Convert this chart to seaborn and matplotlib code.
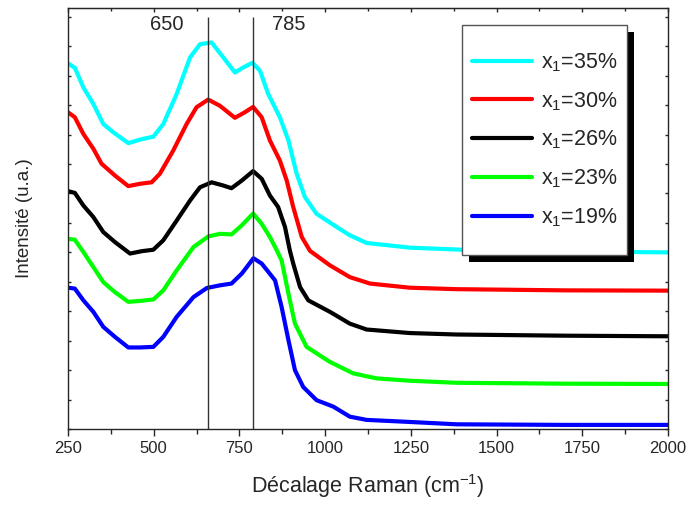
#!/usr/bin/env python3
import os

os.environ.setdefault("MPLCONFIGDIR", ".mplconfig")

import pandas as pd
import seaborn as sns
from matplotlib import pyplot as plt
from matplotlib.patches import Rectangle

# Raman spectra (shift in cm-1, intensity in a.u., curves already offset)
shift_35 = [250, 270, 295, 324, 353, 382, 426, 460, 499, 528, 567, 606, 635, 669, 703, 737,
            761, 788, 810, 834, 868, 893, 917, 941, 975, 1034, 1072, 1121, 1247, 1400, 1700, 2000]
int_35 = [12.42, 12.27, 11.60, 11.04, 10.36, 10.08, 9.71, 9.83, 9.93, 10.36, 11.38, 12.62,
          13.07, 13.13, 12.62, 12.11, 12.28, 12.44, 12.17, 11.38, 10.59, 9.80, 8.67, 7.88,
          7.31, 6.86, 6.58, 6.32, 6.16, 6.09, 6.03, 6.00]

shift_30 = [250, 270, 295, 324, 348, 387, 426, 460, 494, 518, 557, 596, 625, 659, 693, 737,
            766, 790, 815, 839, 868, 888, 907, 932, 956, 1014, 1072, 1131, 1247, 1384, 1700, 2000]
int_30 = [10.76, 10.59, 10.02, 9.52, 9.01, 8.61, 8.25, 8.33, 8.38, 8.67, 9.46, 10.36, 10.93,
          11.19, 10.98, 10.57, 10.76, 10.94, 10.59, 9.80, 9.12, 8.44, 7.54, 6.52, 6.05, 5.56,
          5.16, 4.94, 4.80, 4.75, 4.71, 4.70]

shift_26 = [250, 270, 295, 324, 353, 387, 431, 465, 499, 528, 567, 606, 635, 669, 703, 727,
            757, 790, 815, 839, 863, 883, 897, 907, 927, 951, 1014, 1072, 1121, 1247, 1384,
            1700, 2000]
int_26 = [8.08, 8.02, 7.59, 7.20, 6.69, 6.35, 5.96, 6.04, 6.09, 6.41, 7.08, 7.76, 8.21, 8.38,
          8.27, 8.18, 8.44, 8.76, 8.50, 7.93, 7.54, 6.86, 6.07, 5.62, 4.82, 4.37, 3.98, 3.58,
          3.38, 3.26, 3.21, 3.17, 3.15]

shift_23 = [250, 270, 295, 324, 353, 387, 426, 460, 499, 528, 567, 616, 659, 693, 727, 757,
            790, 815, 839, 859, 873, 893, 912, 946, 1014, 1082, 1150, 1247, 1384, 1700, 2000]
int_23 = [6.46, 6.43, 6.01, 5.50, 4.99, 4.65, 4.32, 4.35, 4.40, 4.71, 5.39, 6.18, 6.54, 6.63,
          6.61, 6.92, 7.32, 6.97, 6.52, 6.07, 5.73, 4.60, 3.58, 2.79, 2.28, 1.89, 1.72, 1.64,
          1.57, 1.54, 1.53]

shift_19 = [250, 270, 295, 324, 353, 387, 426, 460, 499, 528, 567, 616, 655, 693, 727, 757,
            791, 815, 854, 873, 893, 912, 936, 975, 1024, 1072, 1121, 1247, 1384, 1700, 2000]
int_19 = [4.80, 4.77, 4.37, 3.98, 3.47, 3.13, 2.77, 2.77, 2.79, 3.13, 3.81, 4.48, 4.79, 4.88,
          4.94, 5.28, 5.80, 5.62, 5.05, 4.15, 3.02, 2.00, 1.43, 0.98, 0.76, 0.42, 0.31, 0.24,
          0.16, 0.14, 0.14]

labels = ["x$_1$=35%", "x$_1$=30%", "x$_1$=26%", "x$_1$=23%", "x$_1$=19%"]
colors = ["#00FFFF", "#FF0000", "#000000", "#00FF00", "#0000FF"]
marked_bands = [657, 790]
marked_text = ["650", "785"]


def build_frame() -> pd.DataFrame:
    parts = []
    series = [(shift_35, int_35), (shift_30, int_30), (shift_26, int_26),
              (shift_23, int_23), (shift_19, int_19)]
    for label, (xs, ys) in zip(labels, series):
        parts.append(pd.DataFrame({"shift": xs, "intensity": ys, "sample": label}))
    return pd.concat(parts, ignore_index=True)


def main() -> None:
    sns.set_style("ticks")
    plt.rcParams["font.family"] = ["Liberation Sans", "DejaVu Sans"]
    plt.rcParams["mathtext.fontset"] = "custom"
    plt.rcParams["mathtext.rm"] = "Liberation Sans"
    plt.rcParams["mathtext.it"] = "Liberation Sans"

    df = build_frame()

    fig = plt.figure(figsize=(6.88, 5.07), dpi=100)
    ax = fig.add_axes([0.0988, 0.1538, 0.8721, 0.8304])

    sns.lineplot(
        data=df, x="shift", y="intensity", hue="sample", hue_order=labels,
        palette=dict(zip(labels, colors)), sort=False, estimator=None,
        linewidth=3, ax=ax, legend=False,
    )
    for line in ax.get_lines():
        line.set_solid_joinstyle("round")
        line.set_solid_capstyle("round")

    for xb in marked_bands:
        ax.vlines(xb, 0, 14.0, color="#333333", linewidth=1, zorder=3)
    ax.text(539, 13.73, marked_text[0], fontsize=14.5, ha="center", va="center")
    ax.text(895, 13.73, marked_text[1], fontsize=14.5, ha="center", va="center")

    ax.set_xlim(250, 2000)
    ax.set_ylim(0, 14.3)
    ax.set_xticks(range(250, 2001, 250))
    ax.set_xticks(range(375, 2000, 250), minor=True)
    ax.set_yticks(range(0, 15))
    ax.set_yticklabels([])
    ax.tick_params(axis="x", which="major", direction="out", length=5, width=1, labelsize=12)
    ax.tick_params(axis="x", which="minor", direction="out", length=3.3, width=1)
    ax.tick_params(axis="y", which="both", direction="in", length=2.2, width=1,
                   left=True, right=True)
    for spine in ax.spines.values():
        spine.set_visible(True)
        spine.set_linewidth(1)

    top = ax.secondary_xaxis("top")
    top.set_xticks(range(250, 2001, 250))
    top.set_xticks(range(375, 2000, 250), minor=True)
    top.tick_params(which="major", direction="in", length=3, width=1, labeltop=False)
    top.tick_params(which="minor", direction="in", length=2, width=1)

    ax.set_xlabel("Décalage Raman (cm$^{-1}$)", fontsize=15.5, labelpad=12)
    ax.set_ylabel("Intensité (u.a.)", fontsize=13.5, labelpad=22)

    # legend box with solid black drop shadow
    bx, by, bw, bh = 0.657, 0.413, 0.275, 0.547
    ax.add_patch(Rectangle((bx + 0.0117, by - 0.0166), bw, bh, transform=ax.transAxes,
                           facecolor="black", edgecolor="none", zorder=4, clip_on=False))
    ax.add_patch(Rectangle((bx, by), bw, bh, transform=ax.transAxes, facecolor="white",
                           edgecolor="#555555", linewidth=1, zorder=4.5, clip_on=False))
    handles = [plt.Line2D([], [], color=c, linewidth=3) for c in colors]
    leg = ax.legend(handles, labels, loc="center", bbox_to_anchor=(bx + bw / 2, by + bh / 2),
                    frameon=False, fontsize=15.5, handlelength=2.8, handletextpad=0.4,
                    labelspacing=0.75, borderpad=0)
    leg.set_zorder(5)

    fig.savefig("out.png", dpi=100)
    plt.close(fig)


if __name__ == "__main__":
    main()
